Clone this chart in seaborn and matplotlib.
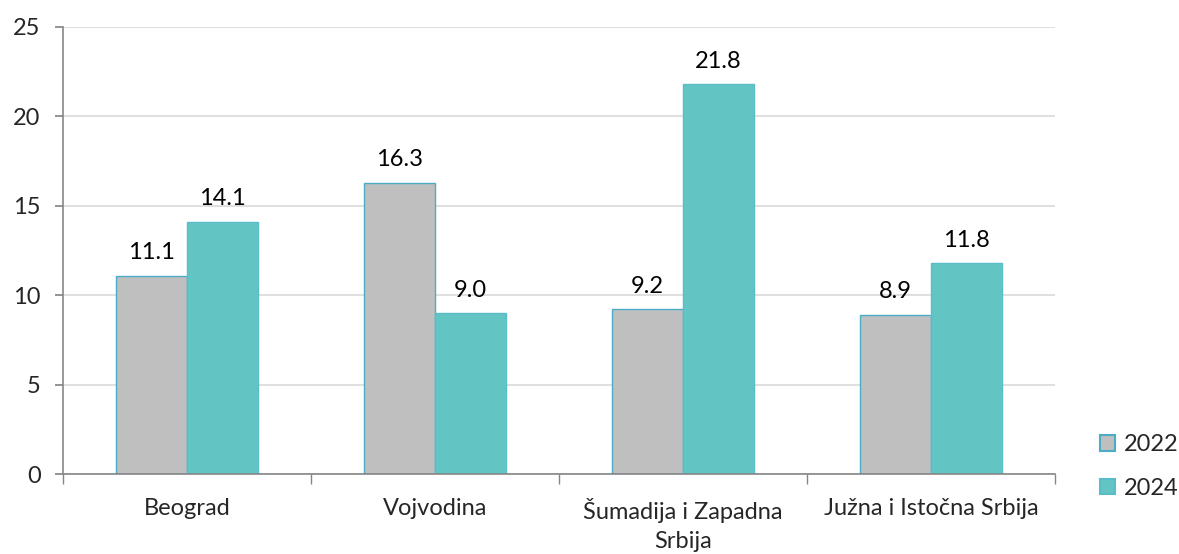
import pandas as pd
import matplotlib
matplotlib.use("Agg")
import matplotlib.pyplot as plt
import seaborn as sns

# ── Data ──────────────────────────────────────────────────────────────────────
REGIONS = ["Beograd", "Vojvodina", "Šumadija i Zapadna\nSrbija", "Južna i Istočna Srbija"]
YEARS = ["2022", "2024"]
VAL_2022 = [11.1, 16.3, 9.2, 8.9]
VAL_2024 = [14.1, 9.0, 21.8, 11.8]

PALETTE = {"2022": "#BFBFBF", "2024": "#62C5C4"}
EDGES = {"2022": "#4BACC6", "2024": "#5BBCC8"}
FS = 17

sns.set_theme(style="white")
plt.rcParams["font.family"] = ["Lato", "DejaVu Sans"]

df = pd.DataFrame({
    "region": REGIONS * 2,
    "year": [YEARS[0]] * len(REGIONS) + [YEARS[1]] * len(REGIONS),
    "value": VAL_2022 + VAL_2024,
})

fig = plt.figure(figsize=(11.79, 5.54), dpi=100)
ax = fig.add_axes([0.0534, 0.1444, 0.8414, 0.8069])

sns.barplot(data=df, x="region", y="value", hue="year", order=REGIONS,
            hue_order=YEARS, palette=PALETTE, width=0.575, ax=ax,
            linewidth=1.0, saturation=1, legend=False)

for cont, yr in zip(ax.containers, YEARS):
    for b in cont:
        b.set_edgecolor(EDGES[yr])
    ax.bar_label(cont, labels=[f"{b.get_height():.1f}" for b in cont],
                 padding=9, fontsize=FS, color="black")

ax.set_ylim(0, 25)
ax.set_xlim(-0.5, len(REGIONS) - 0.5)
ax.set_yticks(range(0, 26, 5))
ax.yaxis.grid(True, color="#D9D9D9", linewidth=1.2)
ax.set_axisbelow(True)
ax.set_xlabel("")
ax.set_ylabel("")

for s in ["top", "right"]:
    ax.spines[s].set_visible(False)
for s in ["left", "bottom"]:
    ax.spines[s].set_color("#868686")
    ax.spines[s].set_linewidth(1.2)

ax.tick_params(axis="y", left=True, length=6, color="#868686", labelsize=FS, pad=10)
ax.tick_params(axis="x", bottom=False, labelsize=FS, pad=11)
for t in ax.get_xticklabels():
    t.set_linespacing(1.5)
ax.set_xticks([i - 0.5 for i in range(len(REGIONS) + 1)], minor=True)
ax.tick_params(axis="x", which="minor", bottom=True, length=7, color="#868686")

handles = [plt.Rectangle((0, 0), 1, 1, facecolor=PALETTE[y], edgecolor=EDGES[y], linewidth=1.5)
           for y in YEARS]
fig.legend(handles, YEARS, loc="center left", bbox_to_anchor=(0.933, 0.158),
           bbox_transform=fig.transFigure, frameon=False, fontsize=FS,
           handlelength=0.65, handleheight=0.65, labelspacing=0.95,
           handletextpad=0.35, borderpad=0, borderaxespad=0)

fig.savefig("out.png", dpi=100)
